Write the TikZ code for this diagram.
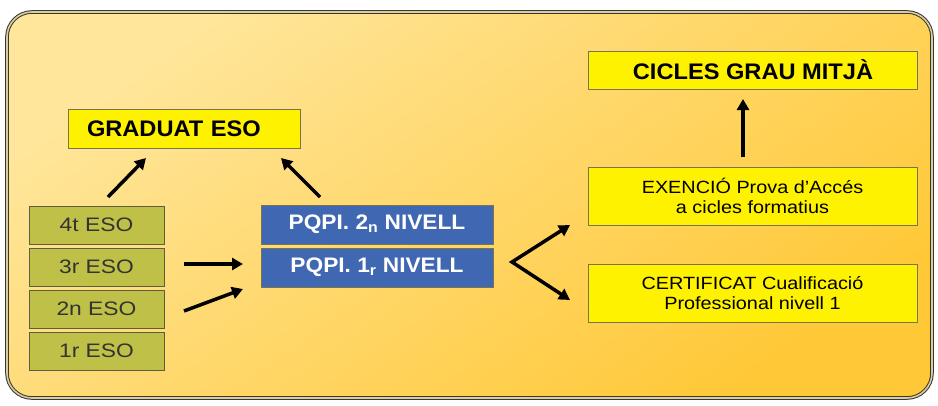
\documentclass[tikz,border=0pt]{standalone}
\usepackage{fontspec}
\setmainfont{Liberation Sans}
\newfontfamily\wideA[FakeStretch=1.17]{Liberation Sans}
\newfontfamily\wideB[FakeStretch=1.12]{Liberation Sans}
\newfontfamily\wideC[FakeStretch=1.05]{Liberation Sans}
\newfontfamily\wideD[FakeStretch=1.08]{Liberation Sans}
\usetikzlibrary{arrows.meta}
\definecolor{bgA}{RGB}{255,230,155}
\definecolor{bgB}{RGB}{255,200,55}
\definecolor{ybox}{RGB}{255,242,0}
\definecolor{ybord}{RGB}{120,115,80}
\definecolor{bluebox}{RGB}{64,103,178}
\definecolor{greenbox}{RGB}{191,192,72}
\definecolor{frameline}{RGB}{60,55,45}
\definecolor{framemid}{RGB}{215,205,165}
\begin{document}
\begin{tikzpicture}[x=1pt,y=-1pt,
  ybx/.style={draw=ybord,line width=1pt,fill=ybox,inner sep=0pt,minimum width=329pt,text=black},
  grn/.style={draw=ybord!80!black,line width=1pt,fill=greenbox,inner sep=0pt,minimum width=135pt,minimum height=38pt,font=\wideA\fontsize{19.5}{21}\selectfont,text=black!80},
  blu/.style={draw=ybord,line width=1pt,fill=bluebox,inner sep=0pt,minimum width=232pt,minimum height=39pt,font=\wideD\fontsize{21}{23}\selectfont\bfseries,text=white},
  arr/.style={line width=3.5pt,-{Triangle[length=11pt,width=12pt]},black},
  twoline/.style={align=center,font=\wideB\fontsize{17.7}{20.5}\selectfont,minimum height=58pt},
  big/.style={font=\wideC\fontsize{22.5}{24}\selectfont\bfseries}
]
\useasboundingbox (0,0) rectangle (938,405);
% frame
\shade[rounded corners=25pt,top color=bgA,bottom color=bgB,shading angle=35]
  (7,12) rectangle (932,398);
\draw[rounded corners=25pt,draw=frameline,line width=1pt,double=framemid,double distance=1.6pt]
  (7,12) rectangle (932,398);

% boxes
\node[ybx,big,minimum width=232pt,minimum height=39pt,inner xsep=19pt,text width=194pt,align=left] (grad) at (184,128.5) {GRADUAT ESO};
\node[ybx,big,minimum height=38pt] (cgm) at (753,70) {CICLES GRAU MITJÀ};
\node[ybx,twoline] (exe) at (752.5,196) {EXENCIÓ Prova d’Accés\\a cicles formatius};
\node[ybx,twoline] (cert) at (752.5,293) {CERTIFICAT Cualificació\\Professional nivell 1};

\node[blu] (p2) at (377,224.5) {PQPI. 2\textsubscript{n} NIVELL};
\node[blu] (p1) at (377,267.5) {PQPI. 1\textsubscript{r} NIVELL};

\node[grn] (e4) at (96.5,225) {4t ESO};
\node[grn] (e3) at (96.5,267) {3r ESO};
\node[grn] (e2) at (96.5,309) {2n ESO};
\node[grn] (e1) at (96.5,351) {1r ESO};

% connector points
\coordinate (a1s) at (108,197);
\coordinate (a1e) at (146,158);
\coordinate (a2s) at (320,197);
\coordinate (a2e) at (281,158);
\coordinate (a3s) at (184,264);
\coordinate (a3e) at (243,264);
\coordinate (a4s) at (184,311);
\coordinate (a4e) at (243,289);
\coordinate (v) at (512,262);
\coordinate (vt) at (570,225);
\coordinate (vb) at (570,300);
\coordinate (a6s) at (743,157);
\coordinate (a6e) at (743,99);

\draw[arr] (a1s) -- (a1e);
\draw[arr] (a2s) -- (a2e);
\draw[arr] (a3s) -- (a3e);
\draw[arr] (a4s) -- (a4e);
\draw[arr,{Triangle[length=11pt,width=12pt]}-{Triangle[length=11pt,width=12pt]},line join=miter] (vt) -- (v) -- (vb);
\draw[arr] (a6s) -- (a6e);
\end{tikzpicture}
\end{document}
